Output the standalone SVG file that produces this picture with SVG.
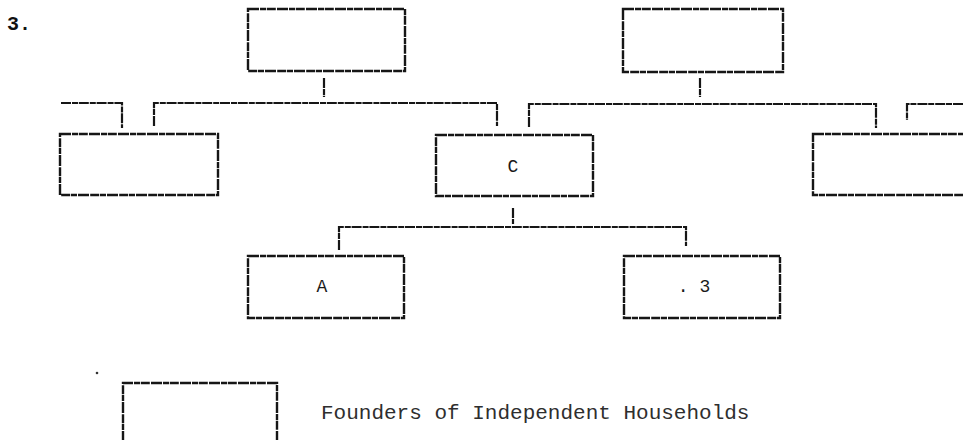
<svg xmlns="http://www.w3.org/2000/svg" width="963" height="440" viewBox="0 0 963 440">
<style>
.box{fill:none;stroke:#161616;stroke-width:2.4;stroke-dasharray:11 1 6 0.8 9 1.2}
.ln{fill:none;stroke:#161616;stroke-width:2.2;stroke-dasharray:10 1 6 0.8}
.lbl{font-family:"Liberation Mono",monospace;font-size:18px;fill:#1a1a1a;text-anchor:middle}
.legend{font-family:"Liberation Mono",monospace;font-size:21px;fill:#2e2e2e}
.num{font-family:"Liberation Mono",monospace;font-size:20px;font-weight:bold;fill:#111}
</style>
<rect width="963" height="440" fill="#fff"/>
<text class="num" x="7" y="30">3.</text>
<g id="connectors">
<path class="ln" d="M324 78V97"/>
<path class="ln" d="M700 78V97"/>
<path class="ln" d="M61 103H122V128"/>
<path class="ln" d="M154 126V103H497V126"/>
<path class="ln" d="M529 127V104H876V128"/>
<path class="ln" d="M963 104H907V120"/>
<path class="ln" d="M513 208V224"/>
<path class="ln" d="M339 250V227H686V246"/>
</g>
<g id="parent-left"><rect class="box" x="248" y="9" width="157" height="62"/></g>
<g id="parent-right"><rect class="box" x="623" y="9" width="160" height="63"/></g>
<g id="sib-left"><rect class="box" x="60" y="134" width="158" height="61"/></g>
<g id="node-c"><rect class="box" x="436" y="135" width="157" height="61"/><text class="lbl" x="513" y="172">C</text></g>
<g id="sib-right"><rect class="box" x="813" y="134" width="170" height="61"/></g>
<g id="node-a"><rect class="box" x="248" y="256" width="156" height="62"/><text class="lbl" x="322" y="292">A</text></g>
<g id="node-b"><rect class="box" x="624" y="256" width="156" height="62"/><text class="lbl" x="694" y="292">. 3</text></g>
<g id="legend">
<circle cx="97" cy="373" r="1.3" fill="#333"/>
<path class="box" d="M123 442V383H277V442"/>
<text class="legend" x="321" y="419">Founders of Independent Households</text>
</g>
</svg>
